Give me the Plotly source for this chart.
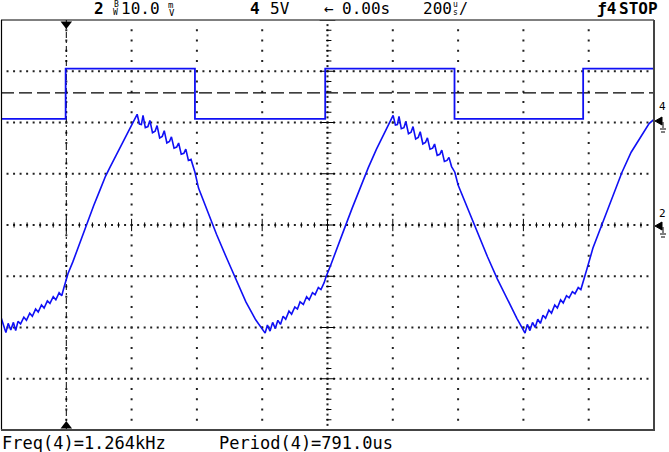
import numpy as np
import plotly.graph_objects as go

# ---------------- data (time in µs, level in screen divisions) ----------------
sq_t = [-1000, -802, -802, -406, -406, -7, -7, 389, 389, 783, 783, 1000]
sq_v = [2.07, 2.07, 3.05, 3.05, 2.07, 2.07, 3.05, 3.05, 2.07, 2.07, 3.05, 3.05]

tri_t = [-1000, -992, -985, -978, -970, -962, -955, -948, -940, -930, -922, -912, -904, -894,
         -886, -876, -868, -858, -850, -840, -832, -822, -814, -808, -804,
         -795, -780, -767, -750, -734, -716, -697, -680, -666, -650, -636, -620, -605, -592, -583,
         -576, -570, -565, -558, -550, -544, -536, -528, -522, -514, -506, -500, -492, -484,
         -478, -470, -462, -456, -448, -440, -434, -426, -418, -412, -406,
         -395, -370, -340, -310, -280, -250, -220, -191,
         -184, -176, -168, -160, -152, -144, -136, -128, -118, -110, -100, -92, -84, -74,
         -64, -56, -46, -38, -28, -20, -10, -5,
         10, 30, 50, 75, 100, 125, 150, 175, 192, 201,
         208, 214, 219, 226, 234, 240, 248, 256, 262, 270, 278, 284, 292, 300, 306, 314,
         322, 328, 336, 344, 350, 358, 366, 372, 380, 390,
         400, 430, 460, 490, 520, 550, 580, 605,
         612, 620, 628, 636, 644, 652, 660, 668, 678, 686, 696, 704, 714, 722, 732, 740,
         750, 758, 768, 776, 783,
         795, 813, 840, 870, 902, 930, 960, 985, 1000]
tri_v = [-1.80, -1.95, -2.10, -1.92, -2.05, -1.90, -2.06, -1.88, -1.93, -1.80, -1.86, -1.72, -1.78, -1.64,
         -1.70, -1.56, -1.62, -1.48, -1.53, -1.40, -1.46, -1.32, -1.38, -1.24, -1.14,
         -0.95, -0.72, -0.49, -0.22, 0.08, 0.38, 0.68, 0.95, 1.13, 1.33, 1.50, 1.70, 1.88, 2.05, 2.16,
         1.97, 1.96, 2.14, 1.90, 1.92, 2.04, 1.80, 1.83, 1.94, 1.70, 1.73, 1.84, 1.60, 1.63,
         1.72, 1.50, 1.52, 1.60, 1.38, 1.40, 1.48, 1.26, 1.28, 1.15, 1.03,
         0.72, 0.30, -0.18, -0.63, -1.08, -1.50, -1.85, -2.11,
         -1.95, -2.07, -1.90, -2.02, -1.86, -1.94, -1.78, -1.84, -1.68, -1.74, -1.60, -1.64, -1.50, -1.55,
         -1.40, -1.46, -1.32, -1.36, -1.22, -1.26, -1.12, -1.02,
         -0.78, -0.42, -0.10, 0.32, 0.72, 1.12, 1.48, 1.82, 2.04, 2.14,
         1.95, 1.96, 2.12, 1.88, 1.90, 2.02, 1.78, 1.81, 1.92, 1.68, 1.71, 1.82, 1.58, 1.61, 1.70, 1.48,
         1.50, 1.58, 1.36, 1.38, 1.46, 1.24, 1.26, 1.32, 1.14, 1.03,
         0.78, 0.30, -0.16, -0.62, -1.05, -1.45, -1.82, -2.11,
         -1.94, -2.06, -1.90, -2.00, -1.84, -1.92, -1.76, -1.82, -1.66, -1.72, -1.56, -1.62, -1.46, -1.52, -1.38, -1.42,
         -1.30, -1.34, -1.22, -1.26, -1.12,
         -0.85, -0.45, 0.00, 0.52, 1.03, 1.42, 1.74, 1.98, 2.06]

trig_level = 2.58
trig_time = -800

top_labels = ["2", "10.0", "4", "5V", "←", "0.00s", "200", "/", "ƒ4", "STOP"]
bottom_labels = ["Freq(4)=1.264kHz", "Period(4)=791.0us"]

# ---------------- layout geometry ----------------
W, H = 669, 452
L, R, T, B = 1, 654, 20, 430
XR = [-1000, 1000]
YR = [-4, 4]


def px(x):
    return (x - L) / (R - L)


def py(y):
    return (B - y) / (B - T)


def vy(y):  # pixel y -> data div
    return YR[1] - (y - T) / (B - T) * (YR[1] - YR[0])


fig = go.Figure()

# dotted graticule
gx, gy = [], []
for v in range(-3, 4):
    if v == 0:
        continue
    for t in np.arange(-1000, 1001, 20):
        gx.append(t); gy.append(v)
for t in range(-800, 801, 200):
    if t == 0:
        continue
    for v in np.arange(-4, 4.01, 0.2):
        gx.append(t); gy.append(v)
# centre lines (denser)
for t in np.arange(-1000, 1001, 20):
    gx.append(t); gy.append(0)
for v in np.arange(-4, 4.01, 0.1):
    gx.append(0); gy.append(v)
fig.add_trace(go.Scatter(x=gx, y=gy, mode="markers",
                         marker=dict(symbol="square", size=2, color="#222"),
                         hoverinfo="skip", showlegend=False))

# centre-axis tick marks
kx, ky = [], []
for v in np.arange(-4, 4.01, 0.2):
    major = abs(v - round(v)) < 1e-6
    half = 24 if major else 8
    kx += [-half + (0 if major else 4), half + (0 if major else 4), None]
    ky += [v, v, None]
for t in np.arange(-1000, 1001, 40):
    major = abs(t / 200 - round(t / 200)) < 1e-6
    h = 0.12 if major else 0.05
    kx += [t, t, None]
    ky += [-h, h, None]
fig.add_trace(go.Scatter(x=kx, y=ky, mode="lines", line=dict(color="black", width=1),
                         hoverinfo="skip", showlegend=False))

# trigger level (dashed) and trigger position (dash-dot)
fig.add_trace(go.Scatter(x=XR, y=[trig_level, trig_level], mode="lines",
                         line=dict(color="black", width=1.2, dash="13px,5px"),
                         hoverinfo="skip", showlegend=False))
fig.add_trace(go.Scatter(x=[trig_time, trig_time], y=YR, mode="lines",
                         line=dict(color="black", width=1, dash="6px,3px,2px,3px"),
                         hoverinfo="skip", showlegend=False))
fig.add_trace(go.Scatter(x=[trig_time, trig_time], y=[vy(24), vy(426)], mode="markers",
                         marker=dict(symbol=["triangle-down", "triangle-up"], size=10, color="black"),
                         cliponaxis=False, hoverinfo="skip", showlegend=False))

# waveforms
blue = "#1010f5"
fig.add_trace(go.Scatter(x=sq_t, y=sq_v, mode="lines", line=dict(color=blue, width=1.8),
                         showlegend=False))
fig.add_trace(go.Scatter(x=tri_t, y=tri_v, mode="lines", line=dict(color=blue, width=1.6),
                         showlegend=False))

shapes = []
# border
shapes.append(dict(type="line", xref="paper", yref="paper", x0=px(1), x1=px(654), y0=py(20), y1=py(20),
                   line=dict(color="black", width=1)))
shapes.append(dict(type="line", xref="paper", yref="paper", x0=px(1.5), x1=px(1.5), y0=py(20), y1=py(430),
                   line=dict(color="black", width=1.2)))
shapes.append(dict(type="line", xref="paper", yref="paper", x0=px(654), x1=px(654), y0=py(20), y1=py(431),
                   line=dict(color="#444", width=2)))
shapes.append(dict(type="line", xref="paper", yref="paper", x0=px(1), x1=px(655), y0=py(430), y1=py(430),
                   line=dict(color="#444", width=2)))
# right-side channel markers: arrow + ground symbol
for yc in (121, 226):
    shapes.append(dict(type="path", xref="paper", yref="paper",
                       path=f"M {px(655)},{py(yc)} L {px(662)},{py(yc - 4)} L {px(662)},{py(yc + 4)} Z",
                       fillcolor="black", line=dict(color="black", width=1)))
    shapes.append(dict(type="line", xref="paper", yref="paper", x0=px(663), x1=px(663),
                       y0=py(yc + 1), y1=py(yc + 7), line=dict(color="black", width=1)))
    shapes.append(dict(type="line", xref="paper", yref="paper", x0=px(660), x1=px(666),
                       y0=py(yc + 8), y1=py(yc + 8), line=dict(color="black", width=1)))
    shapes.append(dict(type="line", xref="paper", yref="paper", x0=px(661), x1=px(665),
                       y0=py(yc + 11), y1=py(yc + 11), line=dict(color="black", width=1)))

FONT = "DejaVu Sans Mono"
anns = []


def ann(text, x, y, size=16, bold=False, anchor="left"):
    if bold:
        text = "<b>" + text + "</b>"
    anns.append(dict(text=text, x=px(x), y=py(y), xref="paper", yref="paper",
                     xanchor=anchor, yanchor="middle", showarrow=False,
                     font=dict(family=FONT, size=size, color="black")))


ann(top_labels[0], 92, 9, bold=True)
ann("B", 112, 5, size=8)
ann("W", 111, 13, size=8)
ann(top_labels[1], 119, 9)
ann("m", 166, 5, size=9)
ann("V", 167, 13, size=9)
ann(top_labels[2], 248, 9, bold=True)
ann(top_labels[3], 268, 9)
ann(top_labels[4], 322, 9)
ann(top_labels[5], 340, 9)
ann(top_labels[6], 421, 9)
ann("u", 451, 5, size=8)
ann("s", 451, 13, size=8)
ann(top_labels[7], 457, 9, size=15)
ann(top_labels[8], 595, 9, bold=True)
ann(top_labels[9], 617, 9, bold=True)
ann(bottom_labels[0], 0, 443, size=17)
ann(bottom_labels[1], 217, 443, size=17)
ann("4", 668, 107, size=11, anchor="right")
ann("2", 668, 213, size=11, anchor="right")

fig.update_layout(
    width=W, height=H,
    margin=dict(l=L, r=W - R, t=T, b=H - B, pad=0),
    paper_bgcolor="white", plot_bgcolor="white",
    xaxis=dict(range=XR, visible=False, fixedrange=True),
    yaxis=dict(range=YR, visible=False, fixedrange=True),
    shapes=shapes, annotations=anns, showlegend=False,
)

fig.write_html("out.html", config={"displayModeBar": False},
               post_script="document.body.style.margin='0';document.body.style.padding='0';"
                           "document.body.style.overflow='hidden';")
